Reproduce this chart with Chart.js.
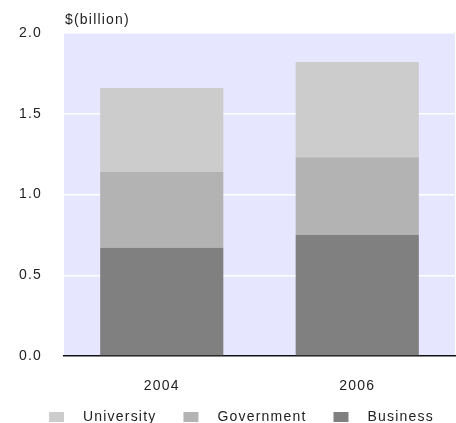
<!DOCTYPE html>
<html>
<head>
<meta charset="utf-8">
<script src="https://cdn.jsdelivr.net/npm/chart.js@4"></script>
<style>
  html, body { margin: 0; padding: 0; background: #fff; }
  #wrap { width: 456px; height: 423px; }
</style>
</head>
<body>
<div id="wrap"><canvas id="chart" width="456" height="423"></canvas></div>
<script>
const years = ["2004", "2006"];
const business = [0.67, 0.75];
const government = [0.47, 0.48];
const university = [0.52, 0.59];
const yTicks = [0, 0.5, 1.0, 1.5, 2.0];
const unitLabel = "$(billion)";

const fontFamily = "'Liberation Sans', Arial, sans-serif";
const textColor = "#222";

// old style wide text
const spacing = {
    id: "spacing",
    beforeLayout: (chart) => { chart.ctx.letterSpacing = "1.2px"; },
    beforeDraw: (chart) => { chart.ctx.letterSpacing = "1.2px"; },
};

const plotBg = {
    id: "plotBg",
    beforeDraw: (chart) => {
        const { ctx, chartArea } = chart;
        ctx.save();
        ctx.fillStyle = "#e6e6ff";
        ctx.fillRect(chartArea.left, chartArea.top,
            chartArea.right - chartArea.left, chartArea.bottom - chartArea.top);
        ctx.restore();
    },
    afterDraw: (chart) => {
        const { ctx, chartArea } = chart;
        ctx.save();
        ctx.font = "14px " + fontFamily;
        ctx.fillStyle = textColor;
        ctx.textBaseline = "middle";
        ctx.fillText(unitLabel, chartArea.left + 1, chartArea.top - 13);

        // legend row, top stack first
        const sets = chart.data.datasets.slice().reverse();
        let x = 49;
        const y = chart.height - 6;
        sets.forEach((ds) => {
            ctx.fillStyle = ds.backgroundColor;
            ctx.fillRect(x, y - 5, 15, 10);
            ctx.fillStyle = textColor;
            ctx.fillText(ds.label, x + 34, y);
            x += 34 + ctx.measureText(ds.label).width + 27;
        });
        ctx.restore();
    },
};

let myChart = new Chart(document.getElementById("chart"), {
    type: "bar",
    plugins: [spacing, plotBg],
    data: {
        labels: years,
        datasets: [
            { label: "Business", data: business, backgroundColor: "#808080" },
            { label: "Government", data: government, backgroundColor: "#b3b3b3" },
            { label: "University", data: university, backgroundColor: "#cccccc" },
        ],
    },
    options: {
        responsive: false,
        animation: false,
        layout: { padding: { left: 18, right: 1, top: 33, bottom: 29 } },
        datasets: {
            bar: { categoryPercentage: 1, barPercentage: 0.63 },
        },
        scales: {
            x: {
                stacked: true,
                afterFit: (axis) => { axis.height = 38; },
                grid: { display: false, drawTicks: false },
                border: { display: true, color: "#111", width: 1.5 },
                ticks: {
                    padding: 22,
                    color: textColor,
                    font: { family: fontFamily, size: 14 },
                },
            },
            y: {
                stacked: true,
                min: 0,
                max: 2,
                afterBuildTicks: (axis) => {
                    axis.ticks = yTicks.map((v) => ({ value: v }));
                },
                afterFit: (axis) => { axis.width = 46; },
                grid: { color: "#ffffff", lineWidth: 1.5, drawTicks: false },
                border: { display: false },
                ticks: {
                    padding: 22,
                    color: textColor,
                    font: { family: fontFamily, size: 14 },
                    callback: (v) => Number(v).toFixed(1),
                },
            },
        },
        plugins: {
            tooltip: { enabled: false },
            legend: { display: false },
        },
    },
});
</script>
</body>
</html>
